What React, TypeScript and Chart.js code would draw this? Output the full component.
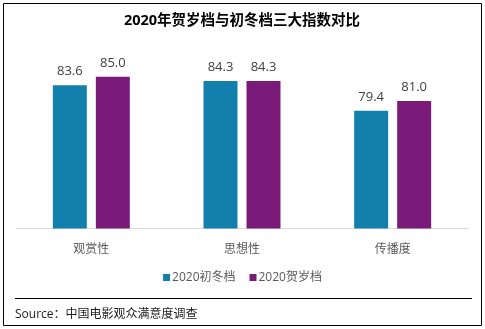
import React, { useEffect, useRef } from "react";
import { Chart, registerables } from "chart.js";

Chart.register(...registerables);

const title = "2020年贺岁档与初冬档三大指数对比";
const categories = ["观赏性", "思想性", "传播度"];
const seriesNames = ["2020初冬档", "2020贺岁档"];
const winterValues = [83.6, 84.3, 79.4];
const newYearValues = [85.0, 84.3, 81.0];
const seriesColors = ["#127FAD", "#7A1B7A"];
const sourceText = "Source：中国电影观众满意度调查";
const yMin = 60;
const yMax = 90;

const FONT = "'Open Sans', 'Noto Sans CJK SC', sans-serif";

const decorPlugin = {
  id: "decor",
  afterDraw(chart: any) {
    const ctx = chart.ctx;
    const W = chart.width;
    const H = chart.height;
    ctx.save();
    // value labels
    ctx.font = `13px ${FONT}`;
    ctx.fillStyle = "#404040";
    ctx.textAlign = "center";
    ctx.textBaseline = "alphabetic";
    chart.data.datasets.forEach((ds: any, di: number) => {
      const meta = chart.getDatasetMeta(di);
      meta.data.forEach((bar: any, i: number) => {
        ctx.fillText(Number(ds.data[i]).toFixed(1), bar.x, bar.y - 10);
      });
    });
    // legend
    ctx.font = `12px ${FONT}`;
    ctx.textAlign = "left";
    ctx.textBaseline = "middle";
    const ly = 277.5;
    const box = 7;
    const gapBoxText = 2;
    const gapItems = 14;
    const widths = chart.data.datasets.map((ds: any) => box + gapBoxText + ctx.measureText(ds.label).width);
    const total = widths.reduce((a: number, b: number) => a + b, 0) + gapItems * (widths.length - 1);
    let x = W / 2 - total / 2;
    chart.data.datasets.forEach((ds: any, di: number) => {
      ctx.fillStyle = ds.backgroundColor;
      ctx.fillRect(x, ly - box / 2, box, box);
      ctx.fillStyle = "#595959";
      ctx.fillText(ds.label, x + box + gapBoxText, ly + 0.5);
      x += widths[di] + gapItems;
    });
    // separator
    ctx.strokeStyle = "#000";
    ctx.lineWidth = 1;
    ctx.beginPath();
    ctx.moveTo(15, 298.5);
    ctx.lineTo(472, 298.5);
    ctx.stroke();
    // source
    ctx.fillStyle = "#1a1a1a";
    ctx.font = `12px ${FONT}`;
    ctx.fillText(sourceText, 15, 315);
    // border
    ctx.strokeStyle = "#000";
    ctx.beginPath();
    ctx.rect(3.5, 3.5, W - 7, H - 7);
    ctx.stroke();
    ctx.restore();
  },
};

export default function App() {
  const ref = useRef<HTMLCanvasElement>(null);
  useEffect(() => {
    const chart = new Chart(ref.current!, {
      type: "bar",
      data: {
        labels: categories,
        datasets: [
          { label: seriesNames[0], data: winterValues, backgroundColor: seriesColors[0] },
          { label: seriesNames[1], data: newYearValues, backgroundColor: seriesColors[1] },
        ],
      },
      options: {
        animation: false,
        responsive: false,
        devicePixelRatio: 1,
        categoryPercentage: 0.571,
        barPercentage: 0.79,
        layout: { padding: { top: 4, left: 16, right: 17, bottom: 58 } },
        plugins: {
          legend: { display: false },
          tooltip: { enabled: false },
          title: {
            display: true,
            text: title,
            color: "#000",
            font: { family: FONT, size: 14.5, weight: "bold" },
            padding: { top: 8, bottom: 17 },
          },
        },
        scales: {
          x: {
            grid: { display: false, drawTicks: false },
            border: { display: true, color: "#D9D9D9", width: 1 },
            ticks: { color: "#595959", font: { family: FONT, size: 12 }, padding: 14 },
          },
          y: {
            display: false,
            min: yMin,
            max: yMax,
          },
        },
      },
      plugins: [decorPlugin],
    } as any);
    return () => chart.destroy();
  }, []);
  return (
    <div style={{ position: "absolute", left: 0, top: 0, width: 485, height: 329, background: "#fff" }}>
      <canvas ref={ref} width={485} height={329} />
    </div>
  );
}
